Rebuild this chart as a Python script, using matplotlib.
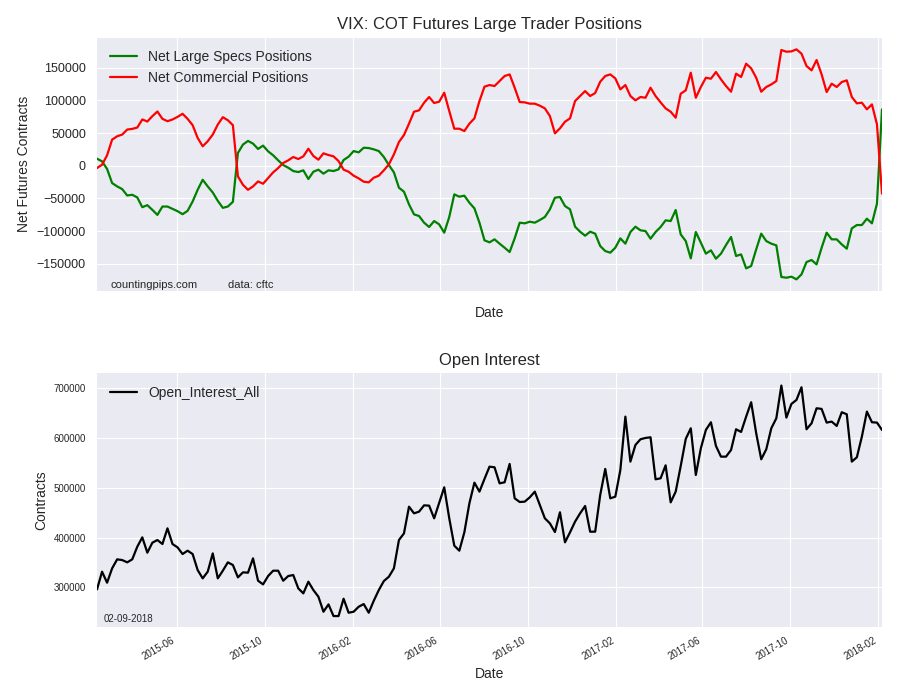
import pandas as pd
import matplotlib
matplotlib.use('Agg')
import matplotlib.pyplot as plt
import matplotlib.dates as mdates
from matplotlib.ticker import MultipleLocator

# weekly COT report dates (tuesdays)
dates = pd.date_range('2015-02-10', periods=157, freq='7D')

# net large speculator positions
specs = [10700, 6600, -5000, -26600, -31700, -35800, -45600, -44500, -48600, -63500,
         -60400, -67600, -75300, -62500, -62500, -66000, -69600, -74200, -69100, -54800,
         -36900, -21500, -31700, -41000, -53800, -64500, -62500, -55300, 19500, 32300,
         37900, 33800, 25600, 30700, 22000, 15900, 8200, 1000, -3100, -8200,
         -9700, -7100, -20400, -9200, -6100, -12200, -7100, -8200, -5600, 8700,
         13800, 22400, 20400, 27500, 27000, 25000, 22400, 13300, 1000, -10200,
         -33700, -39800, -59200, -74500, -77000, -87200, -93800, -84700, -89800, -102500,
         -78500, -43900, -47400, -45900, -56600, -65300, -87200, -114200, -117300, -112700,
         -119300, -125500, -132100, -111200, -87200, -88200, -85700, -87200, -83100, -78500,
         -66800, -49000, -47900, -61700, -66800, -93300, -101000, -107100, -101000, -104000,
         -122900, -130600, -133100, -125500, -111200, -119300, -101500, -93300, -98900, -100000,
         -111700, -101500, -93800, -83600, -84700, -67800, -105100, -115300, -141800, -101500,
         -117800, -134600, -129500, -142300, -134600, -121400, -109100, -138200, -135700, -157100,
         -153500, -128000, -104000, -115300, -119300, -121900, -170300, -171400, -169800, -173900,
         -166300, -147400, -144300, -151000, -125500, -102500, -112700, -112700, -120400, -127000,
         -95900, -90800, -90800, -81100, -88200, -58100, 86200]

# net commercial positions
comm = [-3600, 1500, 15900, 39900, 45000, 47600, 55300, 56300, 58400, 70700,
        67600, 75800, 82900, 71700, 68100, 70700, 74700, 79400, 71700, 62000,
        42500, 29700, 37400, 47600, 63000, 74200, 69600, 62000, -16400, -29200,
        -36900, -31700, -24100, -27600, -18900, -10200, -3600, 4100, 8200, 13300,
        10200, 14300, 26000, 14800, 9200, 18900, 16300, 14300, 7100, -6100,
        -9200, -15300, -19400, -24500, -25500, -18400, -15300, -7100, 2000, 17300,
        36200, 46900, 64300, 82600, 84700, 96400, 105100, 95900, 97900, 111700,
        83600, 56600, 56600, 53000, 64300, 72400, 98900, 120900, 123400, 121900,
        129500, 137200, 139700, 119300, 97400, 96900, 94900, 94900, 91800, 87700,
        76000, 49500, 57100, 67300, 72400, 98900, 106600, 114200, 106600, 111200,
        128500, 137200, 139700, 133600, 116800, 123400, 106600, 100000, 105100, 104000,
        119300, 106600, 96900, 87700, 82600, 73400, 110200, 115300, 142300, 104000,
        120400, 134600, 133100, 143300, 132100, 121900, 113200, 140800, 135700, 156100,
        148900, 134600, 113200, 120400, 124400, 129500, 177000, 174400, 174900, 178000,
        171400, 152500, 145900, 161700, 139700, 112700, 125500, 120400, 128000, 130600,
        105100, 95400, 96400, 86200, 93800, 63200, -42800]

# open interest
oi = [296000, 331500, 309400, 338200, 356300, 354900, 350300, 356300, 381700, 400500,
      369700, 389800, 395100, 387100, 418600, 387100, 380400, 367000, 373700, 367000,
      334800, 318100, 331500, 368300, 318100, 333500, 350300, 344900, 320100, 330200,
      329500, 358300, 313400, 306000, 322800, 333500, 333500, 313400, 322800, 324800,
      298000, 288000, 311400, 294600, 281200, 251100, 265800, 242400, 242400, 277200,
      249100, 251100, 261100, 266500, 249100, 273200, 294600, 312700, 321400, 338200,
      395100, 408500, 462100, 448700, 452100, 464800, 464200, 438700, 470200, 501000,
      438700, 383800, 373700, 410600, 468800, 510400, 492300, 517800, 542500, 541200,
      509000, 511100, 547900, 478900, 471500, 472200, 480900, 492300, 465500, 438700,
      428600, 411200, 450800, 390500, 410600, 432000, 448700, 463500, 411900, 411900,
      485600, 537900, 478900, 482200, 535800, 643000, 552600, 586100, 597500, 600200,
      601500, 517100, 519100, 545200, 470800, 492300, 543900, 598200, 619600, 525800,
      579400, 616200, 631700, 584100, 562600, 562600, 576000, 617600, 612200, 643000,
      671900, 609500, 557300, 577400, 619600, 639700, 705400, 641000, 668500, 676500,
      702000, 617600, 629600, 659800, 658500, 631000, 633000, 624300, 651800, 647700,
      552600, 561300, 602800, 653100, 631700, 631000, 616200]

plt.style.use('seaborn-v0_8-darkgrid')
plt.rcParams['font.family'] = ['Liberation Sans', 'DejaVu Sans']

fig = plt.figure(figsize=(9, 7), dpi=100)
ax1 = fig.add_axes([0.1078, 0.5847, 0.8722, 0.3614])
ax2 = fig.add_axes([0.1078, 0.1047, 0.8722, 0.3620])

# top: net positions
ax1.plot(dates, specs, color='green', lw=1.6, label='Net Large Specs Positions')
ax1.plot(dates, comm, color='red', lw=1.6, label='Net Commercial Positions')
ax1.set_xlim(dates[0], dates[-1])
ax1.set_ylim(min(specs) * 1.1, max(comm) * 1.1)
ax1.yaxis.set_major_locator(MultipleLocator(50000))
ax1.set_title('VIX: COT Futures Large Trader Positions', fontsize=12)
ax1.set_ylabel('Net Futures Contracts', fontsize=10)
ax1.set_xlabel('Date', fontsize=10, labelpad=11)
ax1.tick_params(axis='y', labelsize=9, pad=8)
ax1.tick_params(axis='x', labelbottom=False)
ax1.legend(loc='upper left', fontsize=10)
ax1.text(0.017, 0.01, 'countingpips.com', transform=ax1.transAxes, fontsize=8, va='baseline')
ax1.text(0.167, 0.01, 'data: cftc', transform=ax1.transAxes, fontsize=8, va='baseline')

# bottom: open interest
ax2.plot(dates, oi, color='black', lw=1.6, label='Open_Interest_All')
ax2.set_xlim(dates[0], dates[-1])
ax2.set_ylim(221000, 730000)
ax2.yaxis.set_major_locator(MultipleLocator(100000))
ax2.set_title('Open Interest', fontsize=12)
ax2.set_ylabel('Contracts', fontsize=10)
ax2.set_xlabel('Date', fontsize=10)
ax2.tick_params(axis='y', labelsize=7, pad=8)
ax2.tick_params(axis='x', labelsize=7, pad=6)
ax2.legend(loc='upper left', fontsize=10)
ax2.text(0.009, 0.02, '02-09-2018', transform=ax2.transAxes, fontsize=7, va='baseline')

for ax in (ax1, ax2):
    ax.xaxis.set_major_locator(mdates.MonthLocator(bymonth=[2, 6, 10]))
    ax.xaxis.set_major_formatter(mdates.DateFormatter('%Y-%m'))
for lbl in ax2.get_xticklabels():
    lbl.set_rotation(30)
    lbl.set_ha('right')

fig.savefig('out.png', dpi=100)
